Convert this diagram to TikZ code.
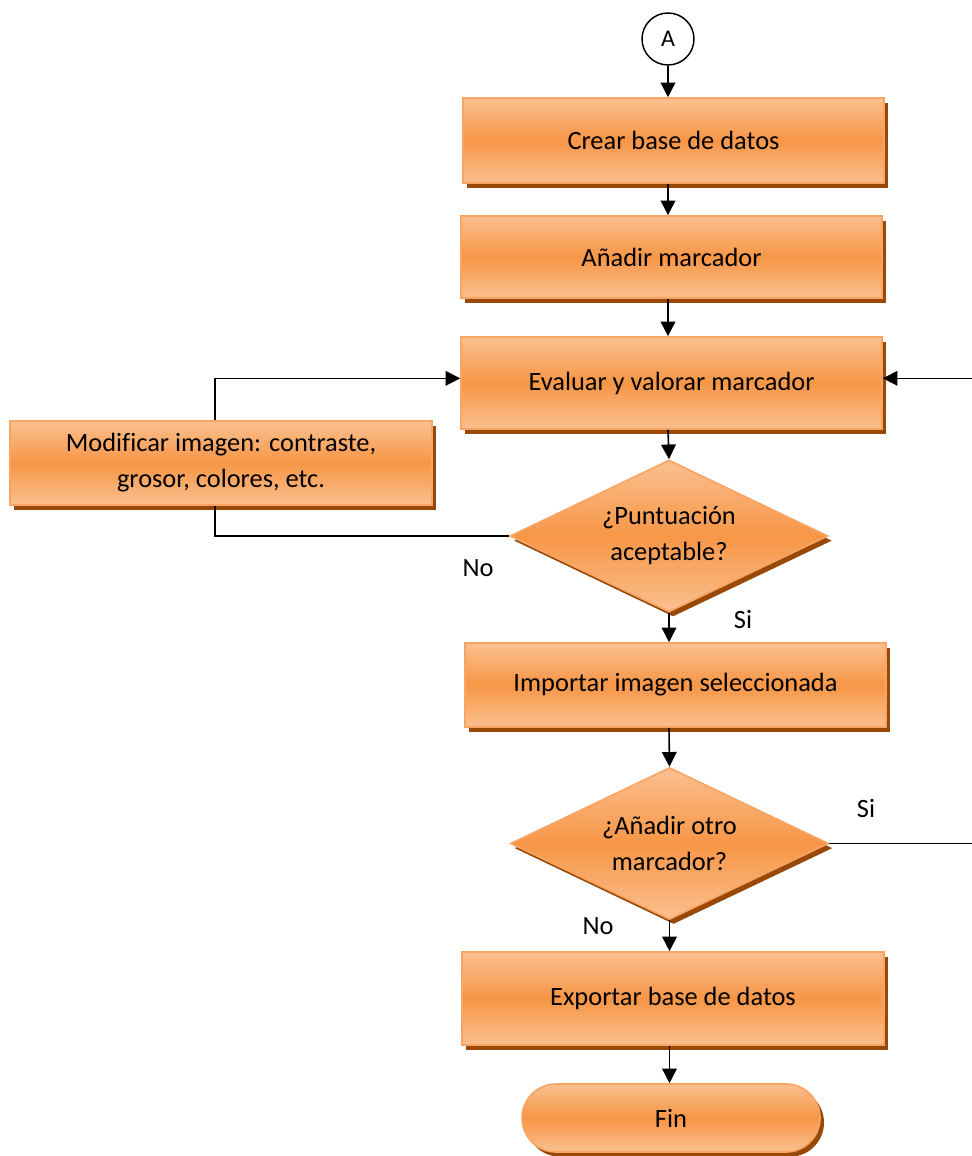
\documentclass[tikz,border=0pt]{standalone}
\usepackage{fontspec}
\setmainfont{Carlito}[Ligatures=NoCommon]
\usetikzlibrary{shapes.geometric,shapes.misc,shadows,arrows.meta}
\definecolor{orangemid}{HTML}{F79646}
\definecolor{orangelight}{HTML}{FAC090}
\definecolor{orangeedge}{HTML}{F8A462}
\definecolor{shadowc}{HTML}{984807}
\begin{document}
\begin{tikzpicture}[x=0.75pt,y=-0.75pt,
  every node/.style={font=\fontsize{19.8pt}{27pt}\selectfont, text=black},
  orangebox/.style={draw=orangeedge, line width=1.2pt,
     top color=orangelight, bottom color=orangelight, middle color=orangemid,
     drop shadow={fill=shadowc, opacity=1, shadow xshift=3pt, shadow yshift=-3.5pt},
     align=center, inner sep=0pt},
  procbox/.style={orangebox, rectangle, minimum width=#1*0.75pt},
  decision/.style={orangebox, diamond, aspect=2.09, minimum width=318*0.75pt, minimum height=152*0.75pt},
  terminal/.style={orangebox, rounded rectangle, minimum width=298*0.75pt, minimum height=68*0.75pt},
  connector/.style={draw, circle, line width=1.1pt, minimum size=52*0.75pt, inner sep=0pt, font=\fontsize{18pt}{20pt}\selectfont},
  flow/.style={line width=1.2pt, -{Triangle[length=11pt,width=11pt]}},
  plain/.style={line width=1.2pt},
  lbl/.style={inner sep=0pt}
]
\useasboundingbox (0,0) rectangle (971,1156);

\node[connector] (A) at (668,39) {\raisebox{-2pt}{A}};
\node[procbox=421, minimum height=85*0.75pt] (b1) at (673.5,140.5) {Crear base de datos};
\node[procbox=421, minimum height=82*0.75pt] (b2) at (671.5,257) {Añadir marcador};
\node[procbox=421, minimum height=92*0.75pt] (b3) at (671.5,383) {Evaluar y valorar marcador};
\node[procbox=422, minimum height=84*0.75pt] (mod) at (221,463) {Modificar imagen: contraste,\\grosor, colores, etc.};
\node[decision] (d1) at (669,536) {¿Puntuación\\aceptable?};
\node[procbox=421, minimum height=84*0.75pt] (b4) at (675.5,685) {Importar imagen seleccionada};
\node[decision] (d2) at (669.5,843.5) {¿Añadir otro\\marcador?};
\node[procbox=422, minimum height=93*0.75pt] (b5) at (673,998.5) {Exportar base de datos};
\node[terminal] (fin) at (671,1118) {Fin};

\node[lbl] (no1) at (478,568) {No};
\node[lbl] (si1) at (743,620) {Si};
\node[lbl] (si2) at (866,808) {Si};
\node[lbl] (no2) at (598,926) {No};

\coordinate (R) at (973,0);

\draw[flow] (A.south) -- (b1.north -| A.south);
\draw[flow] (b1.south -| A.south) -- (b2.north -| A.south);
\draw[flow] (b2.south -| A.south) -- (b3.north -| A.south);
\draw[flow] (b3.south -| A.south) -- (d1.north);
\draw[plain] (d1.west) -| ([xshift=-4.5pt]mod.south);
\draw[flow] ([xshift=-4.5pt]mod.north) |- ([yshift=3.5pt]b3.west);
\draw[flow] (d1.south) -- (b4.north -| d1.south);
\draw[flow] (b4.south -| d1.south) -- (d2.north);
\draw[flow] (d2.south) -- (b5.north -| d2.south);
\draw[flow] (b5.south -| d2.south) -- (fin.north -| d2.south);
\draw[flow] (d2.east) -- (d2.east -| R) -- ([yshift=3.5pt]b3.east -| R) -- ([yshift=3.5pt]b3.east);
\end{tikzpicture}
\end{document}
